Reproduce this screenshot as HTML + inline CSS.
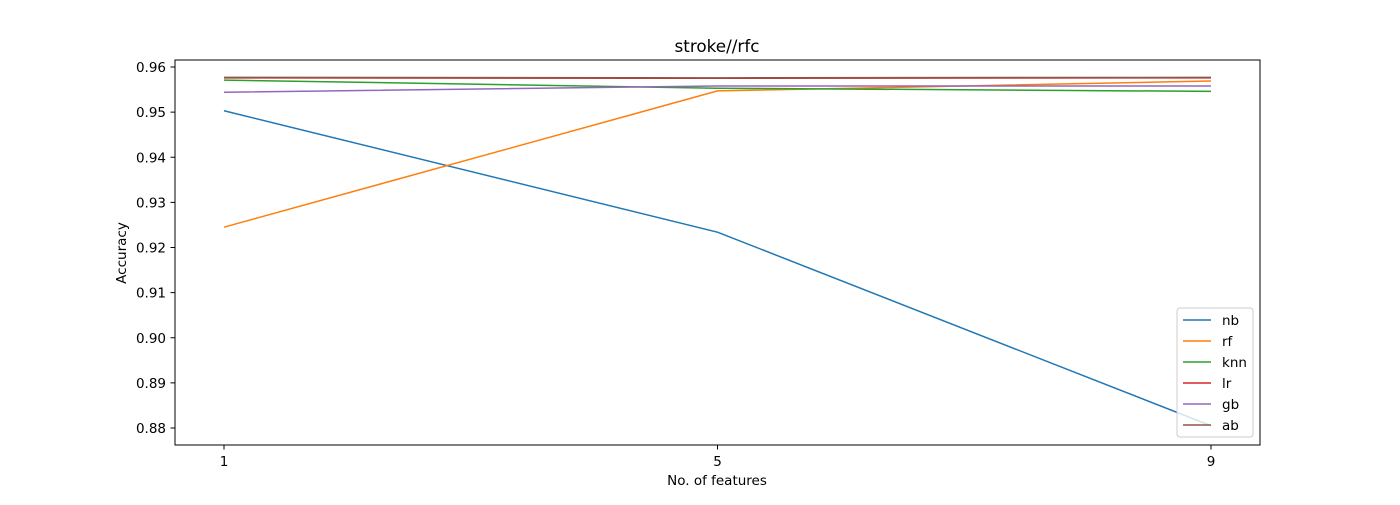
<!DOCTYPE html>
<html><head><meta charset="utf-8"><style>
body{margin:0;background:#fff;font-family:"Liberation Sans","DejaVu Sans",sans-serif}
svg text{font-family:"DejaVu Sans","Liberation Sans",sans-serif;fill:#000}
</style></head><body>
<svg id="chart" width="1400" height="500">
<text x="717" y="52" font-size="16.8" text-anchor="middle">stroke//rfc</text>
<g id="marks"></g>
<rect x="175" y="60" width="1085" height="385" fill="none" stroke="#000" stroke-width="1"/>
<g id="axes"></g>
<text x="717" y="485" font-size="13.5" text-anchor="middle">No. of features</text>
<text transform="translate(126,253) rotate(-90)" font-size="13.5" text-anchor="middle">Accuracy</text>
<g id="legend"></g>
</svg>
<script>
const categories=[1,5,9];
const seriesNames=["nb","rf","knn","lr","gb","ab"];
const colors=["#1f77b4","#ff7f0e","#2ca02c","#d62728","#9467bd","#8c564b"];
const nb=[0.9503,0.9234,0.8805];
const rf=[0.9245,0.9547,0.9569];
const knn=[0.9571,0.9553,0.9546];
const lr=[0.9576,0.9575,0.9576];
const gb=[0.9544,0.9558,0.9558];
const ab=[0.9577,0.9576,0.9577];
const yTicks=[0.88,0.89,0.90,0.91,0.92,0.93,0.94,0.95,0.96];
const series=[nb,rf,knn,lr,gb,ab];
const NS="http://www.w3.org/2000/svg";
function xs(v){return 224+(v-1)*(1211-224)/8;}
function ys(v){return 428+(0.88-v)*(428-67)/0.08;}
const marks=document.getElementById('marks'),axes=document.getElementById('axes'),leg=document.getElementById('legend');
function mk(t,a,p){const e=document.createElementNS(NS,t);for(const k in a)e.setAttribute(k,a[k]);p.appendChild(e);return e;}
series.forEach((s,i)=>{
 const pl=mk('polyline',{points:s.map((v,j)=>xs(categories[j])+','+ys(v)).join(' '),fill:'none',stroke:colors[i],'stroke-width':1.5},marks);
 
 
});
categories.forEach(c=>{
 const x=xs(c);
 const t=mk('line',{x1:x,x2:x,y1:445,y2:449.5,stroke:'#000'},axes);
 
 
 const l=mk('text',{x:x,y:466,'font-size':13.5,'text-anchor':'middle'},axes);l.textContent=c;
 
 
});
yTicks.forEach(v=>{
 const y=ys(v);
 const t=mk('line',{x1:170.5,x2:175,y1:y,y2:y,stroke:'#000'},axes);
 
 
 const l=mk('text',{x:166,y:y+5,'font-size':13.5,'text-anchor':'end'},axes);l.textContent=v.toFixed(2);
 
 
});
const box=mk('rect',{x:1177,y:308,width:76,height:129,rx:3,fill:'#fff','fill-opacity':0.8,stroke:'#ccc'},leg);


seriesNames.forEach((n,i)=>{
 const y=320+i*21;
 const g=mk('g',{},leg);
 
 
 mk('line',{x1:1183,x2:1211,y1:y,y2:y,stroke:colors[i],'stroke-width':1.5},g);
 const t=mk('text',{x:1222,y:y+5,'font-size':13.5},g);t.textContent=n;
});
</script>
</body></html>
